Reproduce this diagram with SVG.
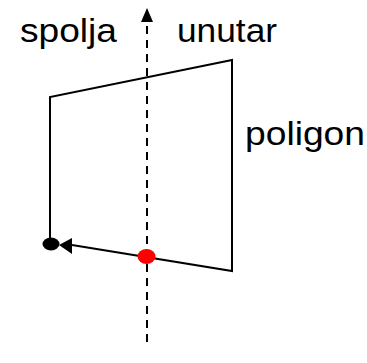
<svg xmlns="http://www.w3.org/2000/svg" width="367" height="363" viewBox="0 0 367 363">
<defs>
<style>
.t{font-family:"Liberation Sans",Arial,sans-serif;font-size:34px;fill:#000}
.e{fill:none;stroke:#000;stroke-width:2}
</style>
</defs>
<rect width="367" height="363" fill="#fff"/>
<g id="connectors">
<line x1="147" y1="342" x2="147" y2="22" stroke="#000" stroke-width="2" stroke-dasharray="8,6"/>
<polygon points="147,8 141,22 153,22" fill="#000"/>
<polygon points="59,245 72,238 72,254" fill="#000"/>
</g>
<g id="polygon">
<polyline class="e" points="50,240 50,97 232,60 232,271 72,245"/>
</g>
<g id="start"><ellipse cx="51" cy="244" rx="8.5" ry="6.5" fill="#000"/></g>
<g id="intersection"><ellipse cx="146.5" cy="256.5" rx="9" ry="7.5" fill="#f00"/></g>
<g id="labels">
<text class="t" x="20" y="42" textLength="97" lengthAdjust="spacingAndGlyphs">spolja</text>
<text class="t" x="177" y="42" textLength="100" lengthAdjust="spacingAndGlyphs">unutar</text>
<text class="t" x="245" y="145" textLength="120" lengthAdjust="spacingAndGlyphs">poligon</text>
</g>
</svg>
